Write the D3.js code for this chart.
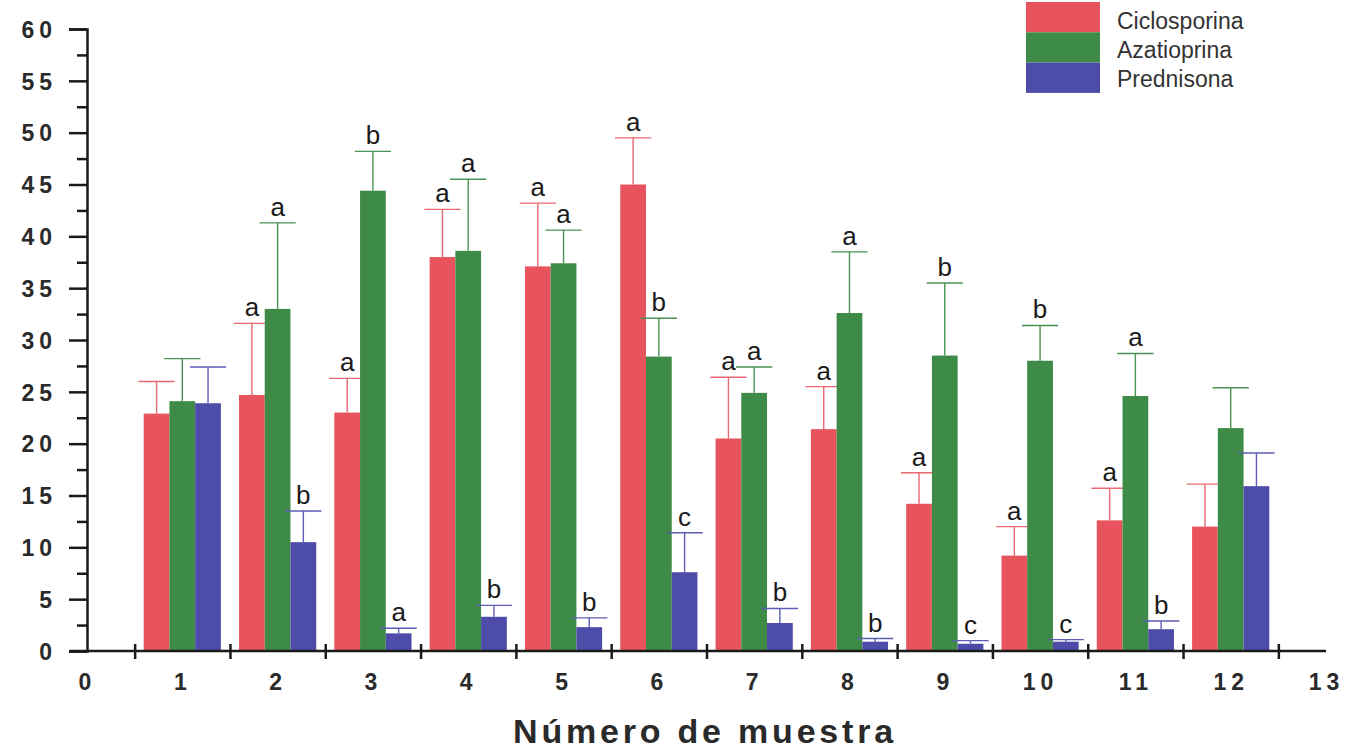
<!DOCTYPE html>
<html>
<head>
<meta charset="utf-8">
<script src="https://cdn.jsdelivr.net/npm/d3@7"></script>
<style>
  body { margin: 0; background: #fff; }
  svg { display: block; }
</style>
</head>
<body>
<svg id="chart" width="1345" height="750"></svg>
<script>
// Sample numbers on the x axis
const samples = [1, 2, 3, 4, 5, 6, 7, 8, 9, 10, 11, 12];
const seriesNames = ["Ciclosporina", "Azatioprina", "Prednisona"];

// Mean values per sample
const ciclosporina = [22.9, 24.7, 23.0, 38.0, 37.1, 45.0, 20.5, 21.4, 14.2, 9.2, 12.6, 12.0];
const azatioprina  = [24.1, 33.0, 44.4, 38.6, 37.4, 28.4, 24.9, 32.6, 28.5, 28.0, 24.6, 21.5];
const prednisona   = [23.9, 10.5, 1.7, 3.3, 2.3, 7.6, 2.7, 0.9, 0.7, 0.9, 2.1, 15.9];

// Standard deviations (upper error bars)
const ciclosporinaSD = [3.1, 6.9, 3.3, 4.6, 6.1, 4.5, 5.9, 4.1, 3.0, 2.8, 3.1, 4.1];
const azatioprinaSD  = [4.1, 8.3, 3.8, 6.9, 3.2, 3.7, 2.5, 5.9, 7.0, 3.4, 4.1, 3.9];
const prednisonaSD   = [3.5, 3.0, 0.5, 1.1, 0.9, 3.8, 1.4, 0.3, 0.3, 0.2, 0.8, 3.2];

// Significance letters per sample
const ciclosporinaLetters = ["", "a", "a", "a", "a", "a", "a", "a", "a", "a", "a", ""];
const azatioprinaLetters  = ["", "a", "b", "a", "a", "b", "a", "a", "b", "b", "a", ""];
const prednisonaLetters   = ["", "b", "a", "b", "b", "c", "b", "b", "c", "c", "b", ""];

// Axis ticks
const xTickLabels = [0, 1, 2, 3, 4, 5, 6, 7, 8, 9, 10, 11, 12, 13];
const xTickMarks = [0.5, 1.5, 2.5, 3.5, 4.5, 5.5, 6.5, 7.5, 8.5, 9.5, 10.5, 11.5, 12.5];
const yMajorTicks = [0, 5, 10, 15, 20, 25, 30, 35, 40, 45, 50, 55, 60];
const yMinorTicks = [2.5, 7.5, 12.5, 17.5, 22.5, 27.5, 32.5, 37.5, 42.5, 47.5, 52.5, 57.5];

const colors = ["#e8545d", "#3e8b47", "#4d4ca8"];
const errColors = ["#ea6870", "#4a9352", "#5d5db5"];

const series = [
  { name: seriesNames[0], values: ciclosporina, sd: ciclosporinaSD, letters: ciclosporinaLetters },
  { name: seriesNames[1], values: azatioprina,  sd: azatioprinaSD,  letters: azatioprinaLetters },
  { name: seriesNames[2], values: prednisona,   sd: prednisonaSD,   letters: prednisonaLetters }
];

const svg = d3.select("#chart");
const x = d3.scaleLinear().domain([0, 13]).range([87, 1326]);
const y = d3.scaleLinear().domain([0, 60]).range([651, 29]);

const barW = 0.27;   // bar width in sample units
const capW = 0.19;   // half-width of error-bar caps

const bars = svg.append("g");
series.forEach((s, i) => {
  const off = (i - 1) * barW;
  const g = bars.append("g");
  g.selectAll("rect")
    .data(samples)
    .join("rect")
    .attr("x", (d) => x(d + off - barW / 2))
    .attr("width", x(barW) - x(0))
    .attr("y", (d, j) => y(s.values[j]))
    .attr("height", (d, j) => y(0) - y(s.values[j]))
    .attr("fill", colors[i]);

  // error bars
  g.selectAll("line.stem")
    .data(samples)
    .join("line")
    .attr("class", "stem")
    .attr("x1", (d) => x(d + off)).attr("x2", (d) => x(d + off))
    .attr("y1", (d, j) => y(s.values[j]))
    .attr("y2", (d, j) => y(s.values[j] + s.sd[j]))
    .attr("stroke", errColors[i]).attr("stroke-width", 1.4);
  g.selectAll("line.cap")
    .data(samples)
    .join("line")
    .attr("class", "cap")
    .attr("x1", (d) => x(d + off - capW)).attr("x2", (d) => x(d + off + capW))
    .attr("y1", (d, j) => y(s.values[j] + s.sd[j]))
    .attr("y2", (d, j) => y(s.values[j] + s.sd[j]))
    .attr("stroke", errColors[i]).attr("stroke-width", 1.4);

  // significance letters
  g.selectAll("text")
    .data(samples)
    .join("text")
    .attr("x", (d) => x(d + off))
    .attr("y", (d, j) => y(s.values[j] + s.sd[j]) - 7)
    .attr("text-anchor", "middle")
    .attr("font-family", "Liberation Sans, Arial, sans-serif")
    .attr("font-size", 26)
    .attr("fill", "#1a1a1a")
    .text((d, j) => s.letters[j]);
});

// Y axis
const yAxis = svg.append("g").attr("transform", `translate(${x(0)},0)`)
  .call(d3.axisLeft(y).tickValues(yMajorTicks).tickSize(18).tickFormat(d3.format("d")));
yAxis.select(".domain").attr("stroke", "#1a1a1a").attr("stroke-width", 2.5);
yAxis.selectAll(".tick line").attr("stroke", "#1a1a1a").attr("stroke-width", 2.5);
yAxis.selectAll(".tick text")
  .attr("x", -30)
  .attr("dy", "0.36em")
  .attr("font-family", "Liberation Sans, Arial, sans-serif")
  .attr("font-weight", "bold")
  .attr("font-size", 23)
  .attr("letter-spacing", 5)
  .attr("fill", "#2a2a2a");

const yMinor = svg.append("g").attr("transform", `translate(${x(0)},0)`)
  .call(d3.axisLeft(y).tickValues(yMinorTicks).tickSize(10).tickFormat(""));
yMinor.select(".domain").remove();
yMinor.selectAll(".tick line").attr("stroke", "#1a1a1a").attr("stroke-width", 2.5);

// X axis
const xAxis = svg.append("g").attr("transform", `translate(0,${y(0)})`)
  .call(d3.axisBottom(x).tickValues(xTickMarks).tickSize(0).tickFormat(""));
xAxis.select(".domain").remove();
xAxis.selectAll(".tick line").attr("y1", -7).attr("y2", 8)
  .attr("stroke", "#1a1a1a").attr("stroke-width", 2.5);
svg.append("line")
  .attr("x1", x(0) - 17).attr("x2", x(13))
  .attr("y1", y(0)).attr("y2", y(0))
  .attr("stroke", "#1a1a1a").attr("stroke-width", 2.5);

const xLabels = svg.append("g").attr("transform", `translate(0,${y(0)})`)
  .call(d3.axisBottom(x).tickValues(xTickLabels).tickSize(0).tickFormat(d3.format("d")));
xLabels.select(".domain").remove();
xLabels.selectAll(".tick text")
  .attr("y", 39).attr("dy", 0)
  .attr("font-family", "Liberation Sans, Arial, sans-serif")
  .attr("font-weight", "bold")
  .attr("font-size", 23)
  .attr("letter-spacing", 5)
  .attr("fill", "#2a2a2a");

// Axis title
svg.append("text")
  .attr("x", 705).attr("y", 743)
  .attr("text-anchor", "middle")
  .attr("font-family", "Liberation Sans, Arial, sans-serif")
  .attr("font-weight", "bold")
  .attr("font-size", 34)
  .attr("letter-spacing", 3.8)
  .attr("fill", "#2a2a2a")
  .text("Número de muestra");

// Legend
const legend = svg.append("g");
seriesNames.forEach((name, i) => {
  legend.append("rect")
    .attr("x", 1026).attr("y", 2 + i * 30.3)
    .attr("width", 74).attr("height", 30.3)
    .attr("fill", colors[i]);
  legend.append("text")
    .attr("x", 1117).attr("y", 21 + i * 29)
    .attr("dy", "0.35em")
    .attr("font-family", "Liberation Sans, Arial, sans-serif")
    .attr("font-size", 23)
    .attr("fill", "#333")
    .text(name);
});
</script>
</body>
</html>
